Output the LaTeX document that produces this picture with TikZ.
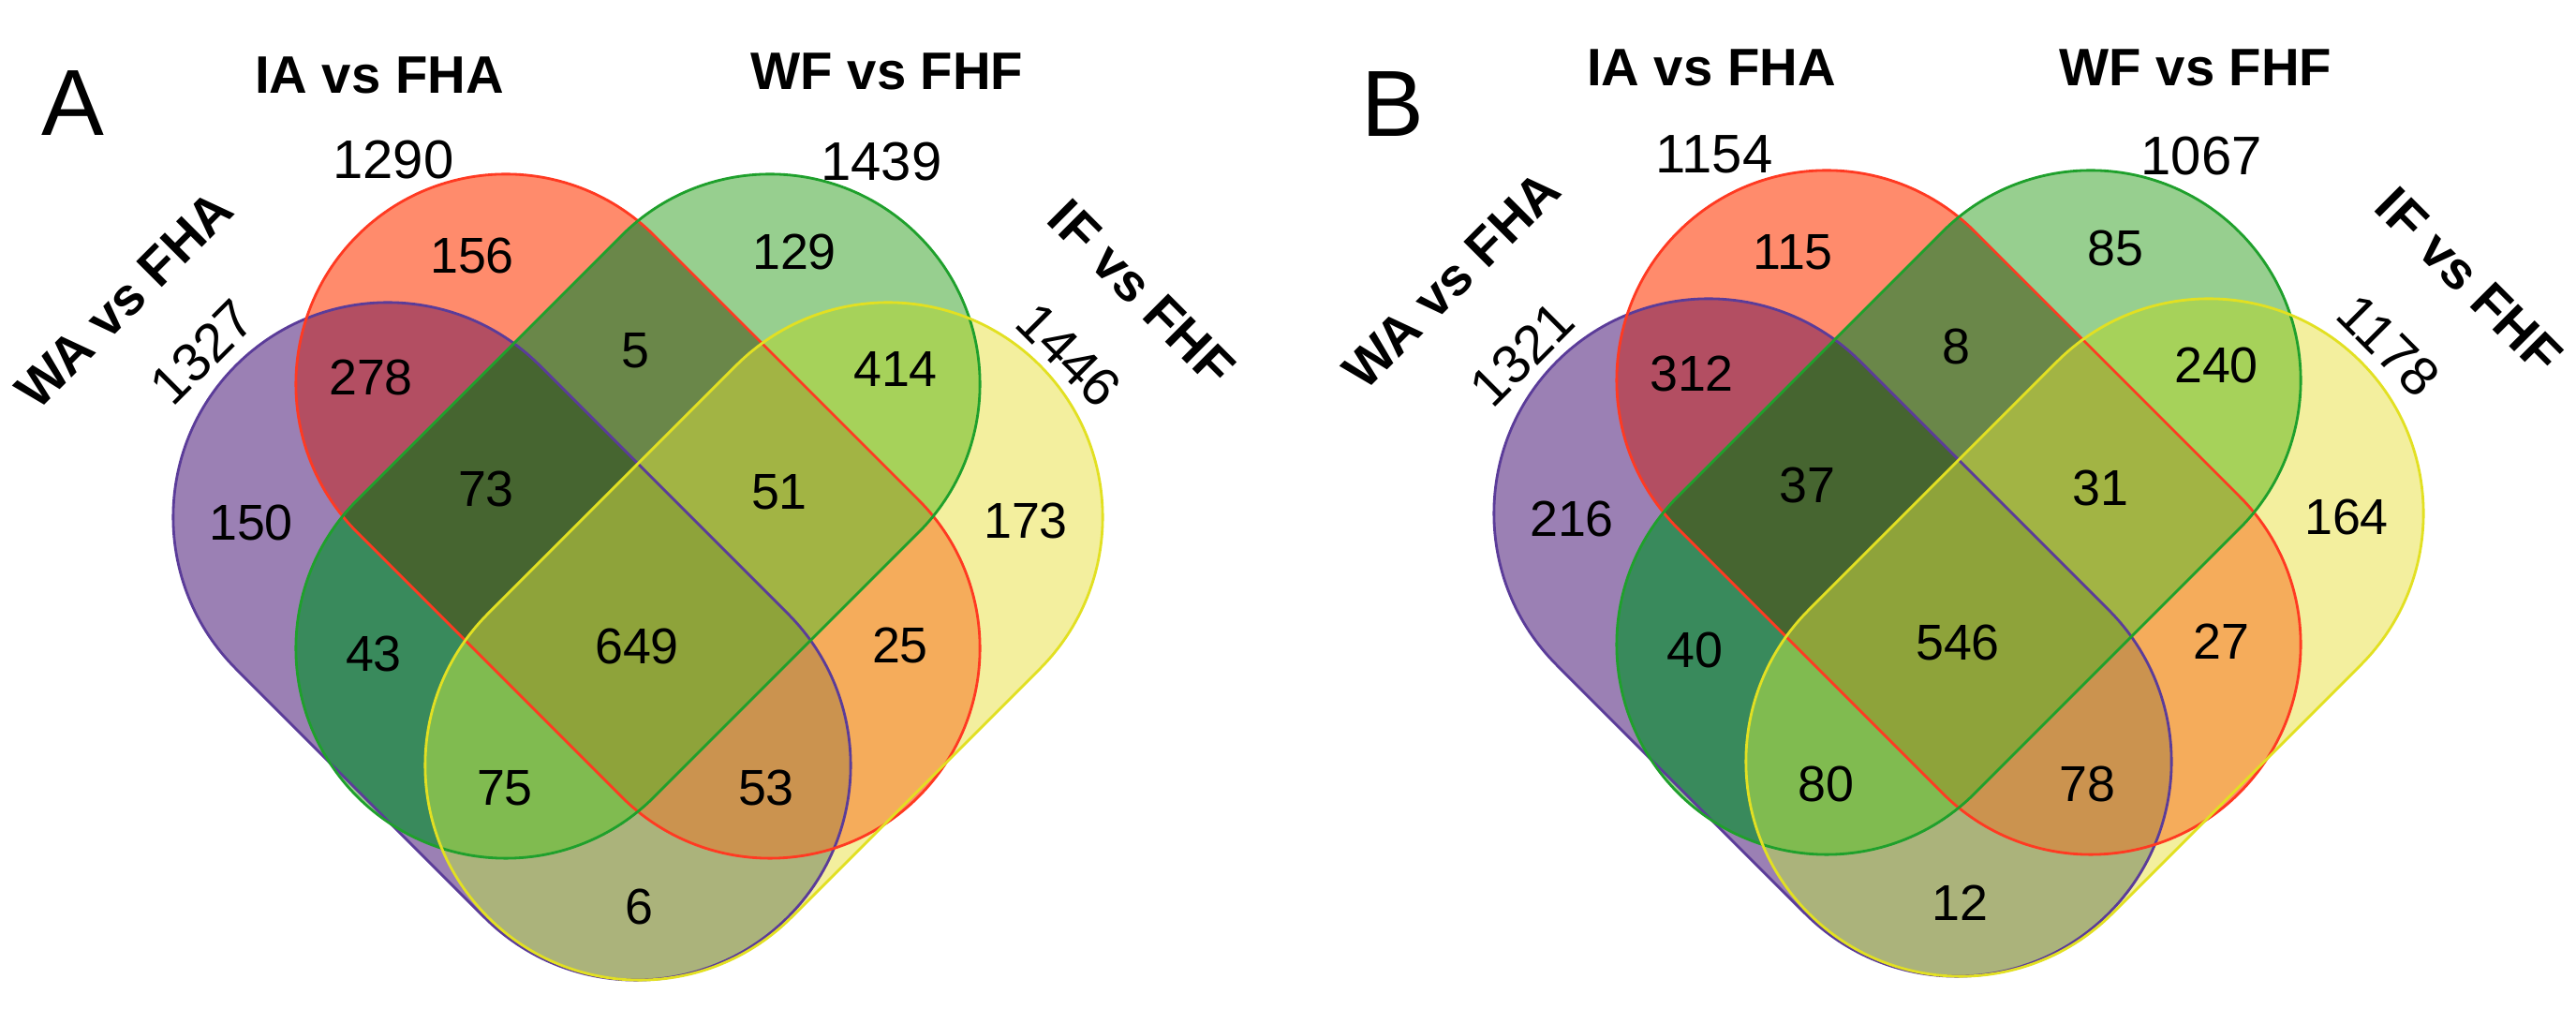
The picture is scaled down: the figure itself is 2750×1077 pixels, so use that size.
\documentclass[tikz,border=0pt]{standalone}
\usepackage{fontspec}
\setmainfont{Liberation Sans}
% region colours
\definecolor{fP}{HTML}{9B80B4}\definecolor{fR}{HTML}{FF8B6C}
\definecolor{fG}{HTML}{97CF8F}\definecolor{fY}{HTML}{F3EF9E}
\definecolor{fPR}{HTML}{B34E62}\definecolor{fPG}{HTML}{398A5C}
\definecolor{fPY}{HTML}{ABB37B}\definecolor{fRG}{HTML}{6A8749}
\definecolor{fRY}{HTML}{F5AC5B}\definecolor{fGY}{HTML}{A6D25A}
\definecolor{fPRG}{HTML}{466530}\definecolor{fPRY}{HTML}{CB934F}
\definecolor{fPGY}{HTML}{80BB50}\definecolor{fRGY}{HTML}{A2B444}
\definecolor{fAll}{HTML}{8EA33A}
\definecolor{eP}{HTML}{5B3C99}\definecolor{eR}{HTML}{FF3A22}
\definecolor{eG}{HTML}{1FA02C}\definecolor{eY}{HTML}{E2E022}
% capsule: first cap centre, step to second cap centre, side angle, radius
\newcommand{\capsule}[6]{(#1,#2) ++(#5:#6) -- ++(#3,#4)
  arc[start angle=#5,end angle=#5-180,radius=#6] -- ++({-(#3)},{-(#4)})
  arc[start angle=#5+180,end angle=#5,radius=#6] -- cycle}
\def\shP{\capsule{414}{552}{265}{265}{45}{2.29cm}}
\def\shR{\capsule{540}{410}{282}{282}{45}{2.24cm}}
\def\shG{\capsule{822}{410}{-282}{282}{-45}{2.24cm}}
\def\shY{\capsule{948}{552}{-265}{265}{-45}{2.29cm}}
\newcommand{\drawvenn}{%
  \fill[fP] \shP; \fill[fR] \shR; \fill[fG] \shG; \fill[fY] \shY;
  \begin{scope}\clip \shP; \fill[fPR] \shR; \fill[fPG] \shG; \fill[fPY] \shY; \end{scope}
  \begin{scope}\clip \shR; \fill[fRG] \shG; \fill[fRY] \shY; \end{scope}
  \begin{scope}\clip \shG; \fill[fGY] \shY; \end{scope}
  \begin{scope}\clip \shP; \clip \shR; \fill[fPRG] \shG; \fill[fPRY] \shY; \end{scope}
  \begin{scope}\clip \shP; \clip \shG; \fill[fPGY] \shY; \end{scope}
  \begin{scope}\clip \shR; \clip \shG; \fill[fRGY] \shY; \end{scope}
  \begin{scope}\clip \shP; \clip \shR; \clip \shG; \fill[fAll] \shY; \end{scope}
  \draw[rim,eP] \shP; \draw[rim,eR] \shR; \draw[rim,eG] \shG; \draw[rim,eY] \shY;}
\begin{document}
\begin{tikzpicture}[x=0.01cm,y=-0.01cm,
  num/.style={font=\fontsize{15.3}{16}\selectfont,inner sep=0pt},
  setlab/.style={font=\bfseries\fontsize{16}{18}\selectfont,inner sep=0pt},
  total/.style={font=\fontsize{16.5}{18}\selectfont,inner sep=0pt},
  panel/.style={font=\fontsize{28.5}{30}\selectfont,inner sep=0pt},
  rim/.style={line width=0.8pt}]
\useasboundingbox[fill=white] (0,0) rectangle (2750,1077);
\drawvenn
\begin{scope}[shift={(1410,-4)}]
\drawvenn
\end{scope}
% panel A labels
\node[panel] (Apanel) at (78,110) {A};
\node[setlab] (Aia) at (405,80) {IA vs FHA};
\node[setlab] (Awf) at (947,76) {WF vs FHF};
\node[total] (Atia) at (420,171) {1290};
\node[total] (Atwf) at (941,173) {1439};
\node[setlab,rotate=45] (Awa) at (133,320) {WA vs FHA};
\node[total,rotate=45] (Atwa) at (216,376) {1327};
\node[setlab,rotate=-45] (Aif) at (1219,313) {IF vs FHF};
\node[total,rotate=-45] (Atif) at (1141,379) {1446};
% panel B labels
\node[panel] (Bpanel) at (1487,111) {B};
\node[setlab] (Bia) at (1827,72) {IA vs FHA};
\node[setlab] (Bwf) at (2344,72) {WF vs FHF};
\node[total] (Btia) at (1830,165) {1154};
\node[total] (Btwf) at (2350,167) {1067};
\node[setlab,rotate=45] (Bwa) at (1550,299) {WA vs FHA};
\node[total,rotate=45] (Btwa) at (1625,378) {1321};
\node[setlab,rotate=-45] (Bif) at (2636,300) {IF vs FHF};
\node[total,rotate=-45] (Btif) at (2550,369) {1178};
% region counts, same place in both panels
\foreach \x/\y/\a/\b in {504/273/156/115, 848/269/129/85, 678/374/5/8,
  396/403/278/312, 956/394/414/240, 519/522/73/37, 832/525/51/31,
  268/558/150/216, 1095/556/173/164, 399/698/43/40, 680/690/649/546,
  961/689/25/27, 539/841/75/80, 818/841/53/78, 682/968/6/12}
{\node[num] (A\a) at (\x,\y) {\a};
 \node[num] (B\b) at (\x+1410,\y-4) {\b};}
\end{tikzpicture}
\end{document}
